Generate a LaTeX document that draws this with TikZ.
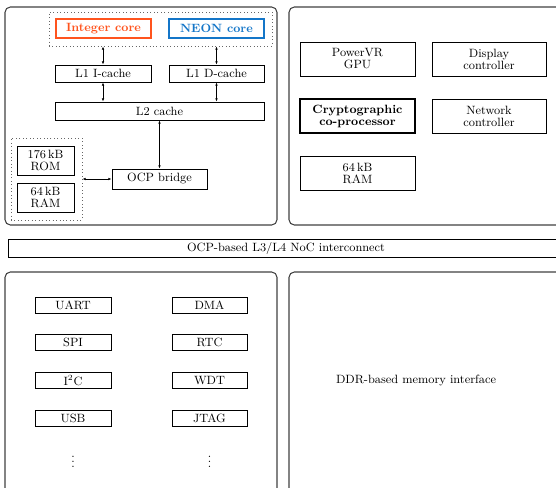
\documentclass[tikz,border=0pt]{standalone}
\usepackage{xcolor}
\usetikzlibrary{positioning, fit, calc, arrows.meta}

\definecolor{intcol}{RGB}{255,84,30}
\definecolor{neoncol}{RGB}{20,118,200}

\begin{document}
\begin{tikzpicture}[x=0.75pt, y=-0.75pt,
    boxsize/.style 2 args={minimum width=#1*0.75pt, minimum height=#2*0.75pt},
    blk/.style={draw, line width=0.6pt, inner sep=0pt, align=center, font=\small},
    core/.style={blk, line width=1.5pt, font=\small\bfseries},
    grp/.style={draw=black!60, dotted, line width=0.6pt, inner sep=0pt},
    panel/.style={draw=black!75, line width=0.8pt, rounded corners=4pt},
    link/.style={{Latex[length=2.5pt,width=2pt]}-{Latex[length=2.5pt,width=2pt]}, line width=0.5pt}]

\clip (0,0) rectangle (556,488);

% Panels
\draw[panel] (5,7) rectangle (277,225);
\draw[panel] (289,7) rectangle (565,225);
\draw[panel] (5,272) rectangle (277,500);
\draw[panel] (289,272) rectangle (565,500);

% CPU subsystem
\node[grp, boxsize={223}{34}] (cores) at (160.5,29) {};
\node[core, draw=intcol, text=intcol, boxsize={95}{19}] (intcore) at (103.5,28.5) {Integer core};
\node[core, draw=neoncol, text=neoncol, boxsize={95}{19}] (neoncore) at (216.5,28.5) {NEON core};
\node[blk, boxsize={96}{17}] (icache) at (103,73.5) {L1 I-cache};
\node[blk, boxsize={95}{17}] (dcache) at (216.5,73.5) {L1 D-cache};
\node[blk, boxsize={209}{18}] (ltwo) at (159.5,111) {L2 cache};
\node[blk, boxsize={95}{20}] (bridge) at (159.5,179) {OCP bridge};

% On-chip memory
\node[grp, boxsize={71}{82}] (mem) at (46.5,179) {};
\node[blk, boxsize={57}{29}] (rom) at (45.5,160.5) {176\,kB\\[-2pt]ROM};
\node[blk, boxsize={57}{29}] (ram) at (45.5,197.5) {64\,kB\\[-2pt]RAM};

% Connections
\draw[link] (icache.north |- cores.south) -- (icache.north);
\draw[link] (dcache.north |- cores.south) -- (dcache.north);
\draw[link] (icache.south) -- (icache.south |- ltwo.north);
\draw[link] (dcache.south) -- (dcache.south |- ltwo.north);
\draw[link] (ltwo.south) -- (bridge.north);
\draw[link] (mem.east |- bridge.west) -- (bridge.west);

% Accelerators
\node[blk, boxsize={115}{34}] (gpu) at (357.5,59) {PowerVR\\[-2pt]GPU};
\node[blk, boxsize={114}{34}] (disp) at (489,59) {Display\\[-2pt]controller};
\node[blk, line width=1.5pt, font=\small\bfseries, boxsize={115}{34}] (crypto) at (357.5,116) {Cryptographic\\[-2pt]co-processor};
\node[blk, boxsize={114}{34}] (net) at (489,116) {Network\\[-2pt]controller};
\node[blk, boxsize={115}{34}] (sram) at (357.5,173) {64\,kB\\[-2pt]RAM};

% Interconnect
\node[blk, boxsize={556}{18}] (noc) at (286,248) {OCP-based L3/L4 NoC interconnect};

% Peripherals
\foreach \y/\a/\b in {305/UART/DMA, 342.5/SPI/RTC, 380.5/I$^2$C/WDT, 418.5/USB/JTAG} {
    \node[blk, boxsize={76}{16}] at (73,\y) {\a};
    \node[blk, boxsize={75}{16}] at (209.5,\y) {\b};
}
\node[font=\small] (ldots) at (73,458) {$\vdots$};
\node[font=\small] (rdots) at (209.5,458) {$\vdots$};

% Memory interface
\node[font=\small] (ddr) at (416,380) {DDR-based memory interface};

\end{tikzpicture}
\end{document}
